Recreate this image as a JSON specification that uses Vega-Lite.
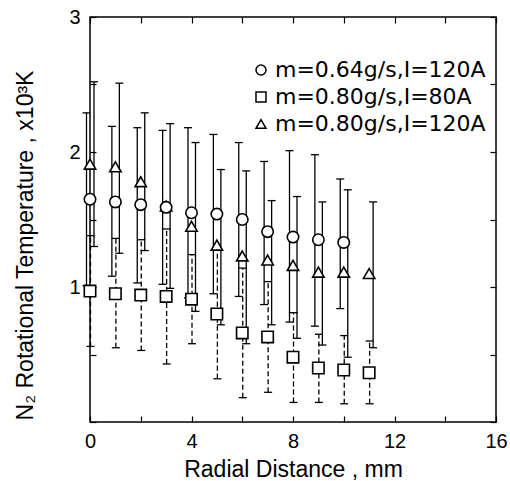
{
  "$schema": "https://vega.github.io/schema/vega-lite/v6.json",
  "width": 406,
  "height": 405,
  "autosize": {"type": "none"},
  "padding": {"left": 90, "top": 17, "right": 14, "bottom": 59},
  "background": "white",
  "config": {
    "view": {"stroke": "black", "strokeWidth": 1.5},
    "axis": {"domain": false, "grid": false, "labelFont": "Liberation Sans", "labelFontSize": 20, "labelColor": "black", "titleFont": "Liberation Sans", "titleFontSize": 23.5, "titleFontWeight": "normal", "titleColor": "black", "tickColor": "black", "tickWidth": 1.2, "labelFlush": false}
  },
  "data": {"values": [
    {"series": "m=0.80g/s,I=80A", "x": 0, "y": 0.97, "lo": 0.56, "hi": 1.38},
    {"series": "m=0.80g/s,I=80A", "x": 1, "y": 0.95, "lo": 0.55, "hi": 1.36},
    {"series": "m=0.80g/s,I=80A", "x": 2, "y": 0.94, "lo": 0.53, "hi": 1.35},
    {"series": "m=0.80g/s,I=80A", "x": 3, "y": 0.93, "lo": 0.43, "hi": 1.43},
    {"series": "m=0.80g/s,I=80A", "x": 4, "y": 0.91, "lo": 0.58, "hi": 1.24},
    {"series": "m=0.80g/s,I=80A", "x": 5, "y": 0.80, "lo": 0.32, "hi": 1.28},
    {"series": "m=0.80g/s,I=80A", "x": 6, "y": 0.66, "lo": 0.18, "hi": 1.14},
    {"series": "m=0.80g/s,I=80A", "x": 7, "y": 0.63, "lo": 0.22, "hi": 1.04},
    {"series": "m=0.80g/s,I=80A", "x": 8, "y": 0.48, "lo": 0.145, "hi": 0.81},
    {"series": "m=0.80g/s,I=80A", "x": 9, "y": 0.40, "lo": 0.145, "hi": 0.65},
    {"series": "m=0.80g/s,I=80A", "x": 10, "y": 0.385, "lo": 0.135, "hi": 0.64},
    {"series": "m=0.80g/s,I=80A", "x": 11, "y": 0.365, "lo": 0.135, "hi": 0.60},
    {"series": "m=0.80g/s,I=120A", "x": 0, "y": 1.91, "lo": 1.30, "hi": 2.52},
    {"series": "m=0.80g/s,I=120A", "x": 1, "y": 1.89, "lo": 1.25, "hi": 2.51},
    {"series": "m=0.80g/s,I=120A", "x": 2, "y": 1.78, "lo": 1.27, "hi": 2.29},
    {"series": "m=0.80g/s,I=120A", "x": 3, "y": 1.60, "lo": 0.99, "hi": 2.21},
    {"series": "m=0.80g/s,I=120A", "x": 4, "y": 1.45, "lo": 0.82, "hi": 2.07},
    {"series": "m=0.80g/s,I=120A", "x": 5, "y": 1.31, "lo": 0.72, "hi": 1.87},
    {"series": "m=0.80g/s,I=120A", "x": 6, "y": 1.23, "lo": 0.58, "hi": 1.86},
    {"series": "m=0.80g/s,I=120A", "x": 7, "y": 1.20, "lo": 0.72, "hi": 1.64},
    {"series": "m=0.80g/s,I=120A", "x": 8, "y": 1.16, "lo": 0.62, "hi": 1.67},
    {"series": "m=0.80g/s,I=120A", "x": 9, "y": 1.11, "lo": 0.57, "hi": 1.63},
    {"series": "m=0.80g/s,I=120A", "x": 10, "y": 1.11, "lo": 0.48, "hi": 1.72},
    {"series": "m=0.80g/s,I=120A", "x": 11, "y": 1.10, "lo": 0.55, "hi": 1.63},
    {"series": "m=0.64g/s,I=120A", "x": 0, "y": 1.65, "lo": 1.01, "hi": 2.29},
    {"series": "m=0.64g/s,I=120A", "x": 1, "y": 1.63, "lo": 1.08, "hi": 2.19},
    {"series": "m=0.64g/s,I=120A", "x": 2, "y": 1.61, "lo": 1.03, "hi": 2.18},
    {"series": "m=0.64g/s,I=120A", "x": 3, "y": 1.59, "lo": 1.02, "hi": 2.16},
    {"series": "m=0.64g/s,I=120A", "x": 4, "y": 1.55, "lo": 0.92, "hi": 2.18},
    {"series": "m=0.64g/s,I=120A", "x": 5, "y": 1.54, "lo": 0.95, "hi": 2.13},
    {"series": "m=0.64g/s,I=120A", "x": 6, "y": 1.50, "lo": 0.93, "hi": 2.07},
    {"series": "m=0.64g/s,I=120A", "x": 7, "y": 1.41, "lo": 0.87, "hi": 1.93},
    {"series": "m=0.64g/s,I=120A", "x": 8, "y": 1.37, "lo": 0.74, "hi": 2.01},
    {"series": "m=0.64g/s,I=120A", "x": 9, "y": 1.35, "lo": 0.71, "hi": 1.98},
    {"series": "m=0.64g/s,I=120A", "x": 10, "y": 1.33, "lo": 0.84, "hi": 1.80}
  ]},
  "layer": [
    {
      "transform": [{"filter": {"field": "series", "equal": "m=0.64g/s,I=120A"}}],
      "mark": {"type": "rule", "xOffset": -3.5, "color": "black", "strokeWidth": 1.3},
      "encoding": {
        "x": {"field": "x", "type": "quantitative", "scale": {"domain": [0, 16], "nice": false},
              "axis": {"orient": "bottom", "values": [0, 4, 8, 12, 16], "ticks": false, "labelPadding": 9, "title": "Radial Distance , mm", "titleFontSize": 23, "titleX": 203, "titleY": 54, "titleBaseline": "alphabetic", "titleAlign": "center"}},
        "y": {"field": "lo", "type": "quantitative", "scale": {"domain": [0, 3], "nice": false},
              "axis": {"orient": "left", "values": [1, 2, 3], "ticks": false, "labelPadding": 10, "title": "N₂ Rotational Temperature , x10³K", "titleFontSize": 23, "titleX": -58, "titleY": 228, "titleAngle": 270, "titleBaseline": "alphabetic", "titleAlign": "center"}},
        "y2": {"field": "hi"}
      }
    },
    {
      "transform": [{"filter": {"field": "series", "equal": "m=0.64g/s,I=120A"}}],
      "mark": {"type": "tick", "orient": "horizontal", "xOffset": -3.5, "size": 8, "thickness": 1.3, "color": "black", "opacity": 1},
      "encoding": {
        "x": {"field": "x", "type": "quantitative", "scale": {"domain": [0, 16], "nice": false},
              "axis": {"orient": "bottom", "values": [0, 2, 4, 6, 8, 10, 12, 14, 16], "labels": false, "tickSize": -6, "title": null}},
        "y": {"field": "lo", "type": "quantitative", "scale": {"domain": [0, 3], "nice": false},
              "axis": {"orient": "left", "values": [0, 0.5, 1, 1.5, 2, 2.5, 3], "labels": false, "tickSize": -6, "title": null}}
      }
    },
    {
      "transform": [{"filter": {"field": "series", "equal": "m=0.64g/s,I=120A"}}],
      "mark": {"type": "tick", "orient": "horizontal", "xOffset": -3.5, "size": 8, "thickness": 1.3, "color": "black", "opacity": 1},
      "encoding": {
        "x": {"field": "x", "type": "quantitative", "scale": {"domain": [0, 16], "nice": false},
              "axis": {"orient": "top", "values": [0, 2, 4, 6, 8, 10, 12, 14, 16], "labels": false, "tickSize": -6, "title": null}},
        "y": {"field": "hi", "type": "quantitative", "scale": {"domain": [0, 3], "nice": false},
              "axis": {"orient": "right", "values": [0, 0.5, 1, 1.5, 2, 2.5, 3], "labels": false, "tickSize": -6, "title": null}}
      }
    },
    {
      "transform": [{"filter": {"field": "series", "equal": "m=0.80g/s,I=120A"}}],
      "mark": {"type": "rule", "xOffset": 4, "color": "black", "strokeWidth": 1.3},
      "encoding": {
        "x": {"field": "x", "type": "quantitative", "scale": {"domain": [0, 16], "nice": false}, "axis": null},
        "y": {"field": "lo", "type": "quantitative", "scale": {"domain": [0, 3], "nice": false}, "axis": null},
        "y2": {"field": "hi"}
      }
    },
    {
      "transform": [{"filter": {"field": "series", "equal": "m=0.80g/s,I=120A"}}],
      "mark": {"type": "tick", "orient": "horizontal", "xOffset": 4, "size": 8, "thickness": 1.3, "color": "black", "opacity": 1},
      "encoding": {
        "x": {"field": "x", "type": "quantitative", "scale": {"domain": [0, 16], "nice": false}, "axis": null},
        "y": {"field": "lo", "type": "quantitative", "scale": {"domain": [0, 3], "nice": false}, "axis": null}
      }
    },
    {
      "transform": [{"filter": {"field": "series", "equal": "m=0.80g/s,I=120A"}}],
      "mark": {"type": "tick", "orient": "horizontal", "xOffset": 4, "size": 8, "thickness": 1.3, "color": "black", "opacity": 1},
      "encoding": {
        "x": {"field": "x", "type": "quantitative", "scale": {"domain": [0, 16], "nice": false}, "axis": null},
        "y": {"field": "hi", "type": "quantitative", "scale": {"domain": [0, 3], "nice": false}, "axis": null}
      }
    },
    {
      "transform": [{"filter": {"field": "series", "equal": "m=0.80g/s,I=80A"}}],
      "mark": {"type": "rule", "xOffset": 0.5, "color": "black", "strokeWidth": 1.3, "strokeDash": [5, 3]},
      "encoding": {
        "x": {"field": "x", "type": "quantitative", "scale": {"domain": [0, 16], "nice": false}, "axis": null},
        "y": {"field": "lo", "type": "quantitative", "scale": {"domain": [0, 3], "nice": false}, "axis": null},
        "y2": {"field": "hi"}
      }
    },
    {
      "transform": [{"filter": {"field": "series", "equal": "m=0.80g/s,I=80A"}}],
      "mark": {"type": "tick", "orient": "horizontal", "xOffset": 0.5, "size": 8, "thickness": 1.3, "color": "black", "opacity": 1},
      "encoding": {
        "x": {"field": "x", "type": "quantitative", "scale": {"domain": [0, 16], "nice": false}, "axis": null},
        "y": {"field": "lo", "type": "quantitative", "scale": {"domain": [0, 3], "nice": false}, "axis": null}
      }
    },
    {
      "transform": [{"filter": {"field": "series", "equal": "m=0.80g/s,I=80A"}}],
      "mark": {"type": "tick", "orient": "horizontal", "xOffset": 0.5, "size": 8, "thickness": 1.3, "color": "black", "opacity": 1},
      "encoding": {
        "x": {"field": "x", "type": "quantitative", "scale": {"domain": [0, 16], "nice": false}, "axis": null},
        "y": {"field": "hi", "type": "quantitative", "scale": {"domain": [0, 3], "nice": false}, "axis": null}
      }
    },
    {
      "mark": {"type": "point", "filled": false, "fill": "white", "fillOpacity": 1, "stroke": "black", "strokeWidth": 1.6, "size": 130, "opacity": 1},
      "encoding": {
        "x": {"field": "x", "type": "quantitative", "scale": {"domain": [0, 16], "nice": false}, "axis": null},
        "y": {"field": "y", "type": "quantitative", "scale": {"domain": [0, 3], "nice": false}, "axis": null},
        "shape": {"field": "series", "type": "nominal",
                  "scale": {"domain": ["m=0.64g/s,I=120A", "m=0.80g/s,I=80A", "m=0.80g/s,I=120A"], "range": ["circle", "square", "triangle-up"]},
                  "legend": {"orient": "none", "legendX": 160, "legendY": 42, "title": null, "labelFont": "DejaVu Sans", "labelFontSize": 22, "labelColor": "black", "labelLimit": 400, "labelOffset": 3, "rowPadding": 5,
                             "encode": {"symbols": {"update": {"shape": {"scale": "shape", "field": "value"}, "size": {"value": 110}, "fill": {"value": "white"}, "fillOpacity": {"value": 1}, "stroke": {"value": "black"}, "strokeOpacity": {"value": 1}, "strokeWidth": {"value": 1.3}, "opacity": {"value": 1}}}}}}
      }
    }
  ],
  "resolve": {"axis": {"x": "independent", "y": "independent"}}
}
